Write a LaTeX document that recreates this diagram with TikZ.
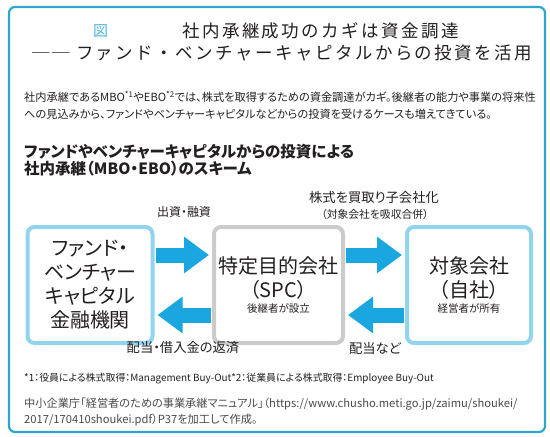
\documentclass[tikz,border=0pt]{standalone}
\usepackage{fontspec}
\setmainfont[RawFeature=+palt]{Noto Sans CJK JP}
\newfontfamily\titlefont[LetterSpace=14]{Noto Sans CJK JP}
\usepackage{tikz}
\usetikzlibrary{arrows.meta, positioning}
\definecolor{frameblue}{HTML}{2CA6CF}
\definecolor{boxblue}{HTML}{91D4EE}
\definecolor{spcgray}{HTML}{CBCBCB}
\definecolor{arrowblue}{HTML}{1AA6DF}
\definecolor{zublue}{HTML}{4DB6DD}
\definecolor{ink}{HTML}{231F20}
\definecolor{srcgray}{HTML}{4A4A4A}

\begin{document}
\begin{tikzpicture}[
    x=1pt, y=-1pt,
    every node/.style={inner sep=0pt, text=ink},
    titletext/.style={anchor=west, font=\titlefont\fontsize{17.5}{20}\selectfont},
    party/.style={
        rectangle,
        rounded corners=7pt,
        draw=boxblue,
        fill=white,
        line width=4pt,
        minimum width=125pt,
        minimum height=116pt,
        align=center,
        font=\fontsize{20}{24}\selectfont
    },
    flow/.style={line width=15pt, draw=arrowblue, -{Triangle[width=35pt, length=25pt]}, shorten >=3pt, shorten <=1pt},
    flowtext/.style={font=\fontsize{13.3}{15}\selectfont},
    smalltext/.style={font=\fontsize{10.8}{12}\selectfont}
]
\useasboundingbox (0,0) rectangle (550,437);
\draw[frameblue, line width=2.2pt, rounded corners=6pt, fill=white] (9,7) rectangle (545,432);

\node[anchor=west, text=zublue, font=\fontsize{15}{15}\selectfont] (zu) at (93,31) {図};
\node[titletext] (title1) at (182,31) {社内承継成功のカギは資金調達};
\node[titletext] (title2) at (32,53) {{\fontsize{17.5}{20}\selectfont ──}\ ファンド・ベンチャーキャピタルからの投資を活用};

\node[anchor=west, align=left, font=\fontsize{11.2}{17}\selectfont] (lead) at (24,105.5)
{社内承継であるMBO\textsuperscript{*1}やEBO\textsuperscript{*2}では、株式を取得するための資金調達がカギ。後継者の能力や事業の将来性\\への見込みから、ファンドやベンチャーキャピタルなどからの投資を受けるケースも増えてきている。};

\node[anchor=west, align=left, font=\bfseries\fontsize{15.5}{17}\selectfont] (heading) at (24,160)
{ファンドやベンチャーキャピタルからの投資による\\社内承継（MBO・EBO）のスキーム};

\node[party] (fund) at (90,285) {ファンド・\\ベンチャー\\キャピタル\\金融機関};
\node[party, draw=spcgray, minimum width=129pt] (spc) at (278.5,285)
{特定目的会社\\（SPC）\\[-9pt]{\fontsize{10.5}{12}\selectfont 後継者が設立}};
\node[party, minimum width=124pt] (target) at (469,285)
{対象会社\\（自社）\\[-9pt]{\fontsize{10.5}{12}\selectfont 経営者が所有}};

\draw[flow] ([yshift=30pt]fund.east) -- ([yshift=30pt]spc.west);
\draw[flow] ([yshift=-30pt]spc.west) -- ([yshift=-30pt]fund.east);
\draw[flow] ([yshift=30pt]spc.east) -- ([yshift=30pt]target.west);
\draw[flow] ([yshift=-30pt]target.west) -- ([yshift=-30pt]spc.east);

\node[flowtext, font=\fontsize{12}{14}\selectfont] (invest) at (184,212) {出資・融資};
\node[flowtext] (buyout) at (374,197.5) {株式を買取り子会社化};
\node[smalltext] (merge) at (375,214) {（対象会社を吸収合併）};
\node[flowtext] (repay) at (183,348) {配当・借入金の返済};
\node[flowtext] (dividend) at (375,348) {配当など};

\node[anchor=west, font=\fontsize{9.9}{11}\selectfont] (notes) at (24,379)
{*1：役員による株式取得：Management Buy-Out*2：従業員による株式取得：Employee Buy-Out};
\node[anchor=west, align=left, text=srcgray, font=\fontsize{11.2}{16}\selectfont] (source) at (24,412)
{中小企業庁「経営者のための事業承継マニュアル」（https://www.chusho.meti.go.jp/zaimu/shoukei/\\2017/170410shoukei.pdf）P37を加工して作成。};
\end{tikzpicture}
\end{document}
